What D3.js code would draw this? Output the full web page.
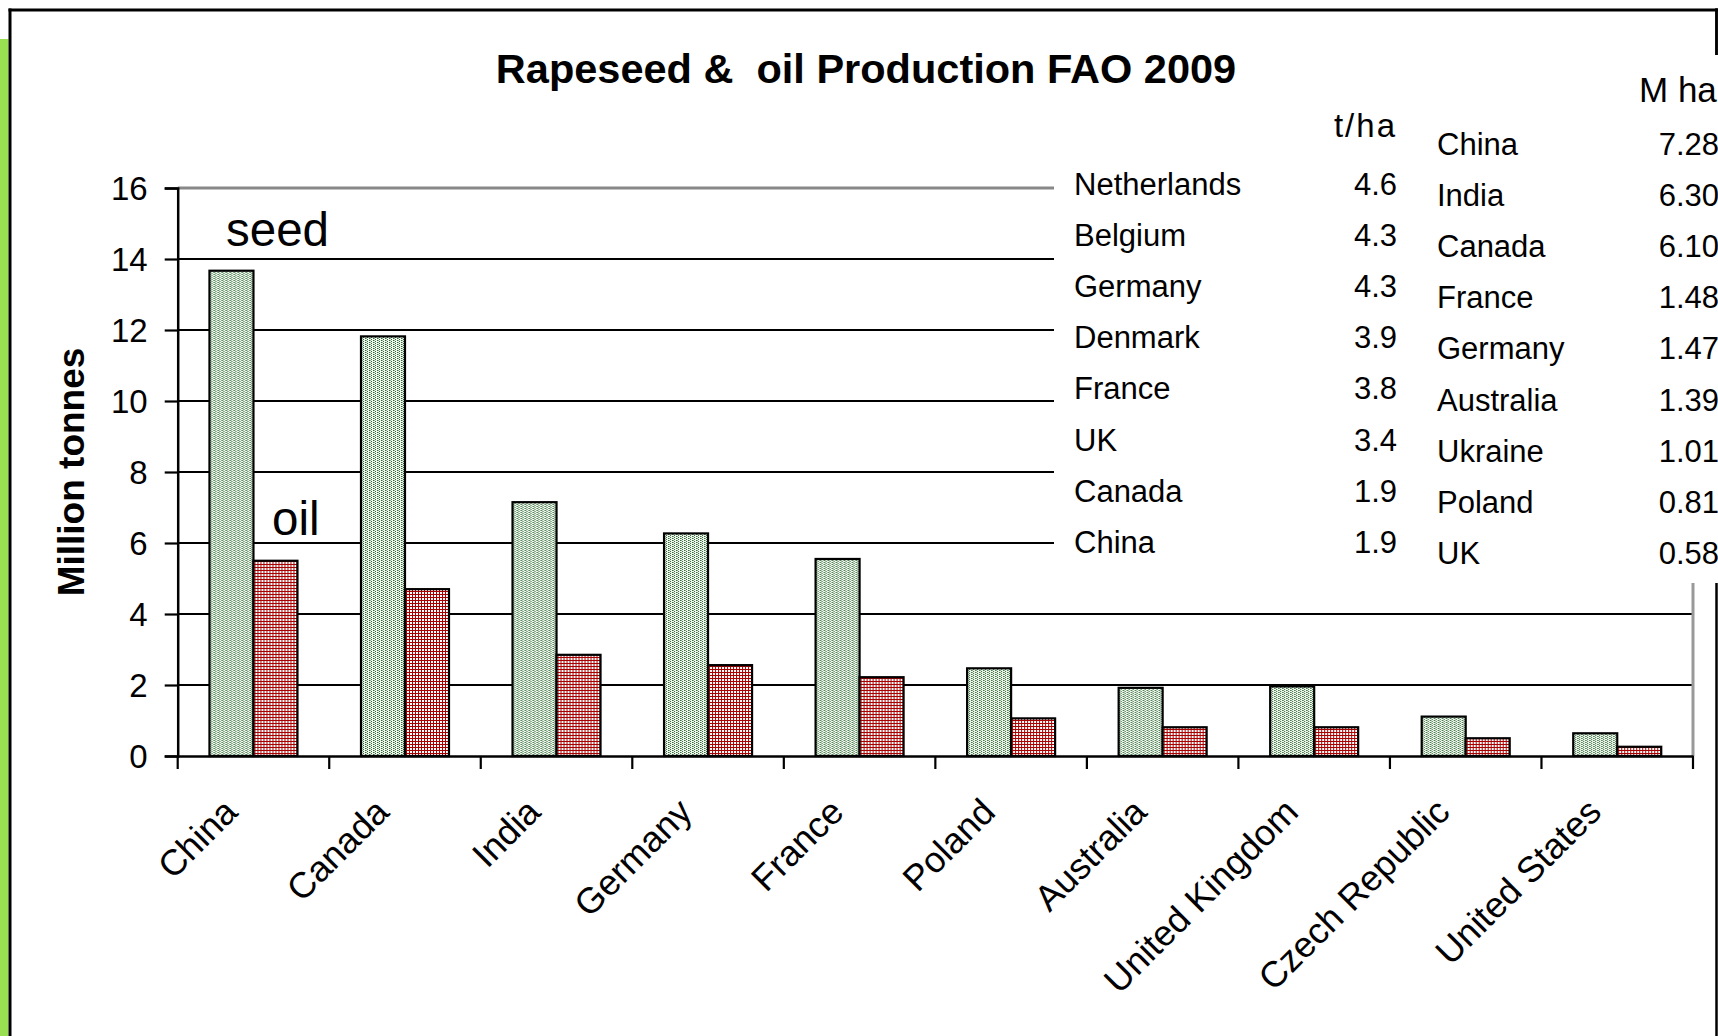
<!DOCTYPE html>
<html>
<head>
<meta charset="utf-8">
<script src="https://cdn.jsdelivr.net/npm/d3@7/dist/d3.min.js"></script>
<style>
  html, body { margin: 0; padding: 0; background: #ffffff; }
  svg { display: block; }
  text { font-family: "Liberation Sans", Arial, Helvetica, sans-serif; fill: #000; }
</style>
</head>
<body>
<svg id="chart" width="1718" height="1036"></svg>
<script>
// ---------- data ----------
const categories = ["China", "Canada", "India", "Germany", "France", "Poland",
                    "Australia", "United Kingdom", "Czech Republic", "United States"];
const seedValues = [13.67, 11.82, 7.15, 6.27, 5.55, 2.47, 1.92, 1.96, 1.11, 0.64];
const oilValues  = [5.50, 4.70, 2.85, 2.56, 2.22, 1.06, 0.81, 0.81, 0.50, 0.26];
const seriesNames = ["seed", "oil"];
const yTicks = [0, 2, 4, 6, 8, 10, 12, 14, 16];

const yieldCountries = ["Netherlands", "Belgium", "Germany", "Denmark", "France", "UK", "Canada", "China"];
const yieldValues    = ["4.6", "4.3", "4.3", "3.9", "3.8", "3.4", "1.9", "1.9"];
const areaCountries  = ["China", "India", "Canada", "France", "Germany", "Australia", "Ukraine", "Poland", "UK"];
const areaValues     = ["7.28", "6.30", "6.10", "1.48", "1.47", "1.39", "1.01", "0.81", "0.58"];

const titleText = "Rapeseed &  oil Production FAO 2009";
const yTitle = "Million tonnes";

// ---------- layout ----------
const svg = d3.select("#chart");
const plot = { left: 177.7, right: 1693, top: 188, bottom: 756 };

const x = d3.scaleBand().domain(categories).range([plot.left, plot.right]).paddingInner(0).paddingOuter(0);
const barW = 44;
const x1 = d3.scaleBand().domain(seriesNames).range([0, barW * 2]);
const y = d3.scaleLinear().domain([0, 16]).range([plot.bottom, plot.top]);

// patterns
const defs = svg.append("defs");
const pSeed = defs.append("pattern").attr("id", "seedPat").attr("patternUnits", "userSpaceOnUse")
  .attr("width", 4).attr("height", 2);
pSeed.append("rect").attr("width", 4).attr("height", 2).attr("fill", "#f2f7f0");
pSeed.append("rect").attr("x", 0).attr("y", 0).attr("width", 1).attr("height", 1).attr("fill", "#2f6a35");
pSeed.append("rect").attr("x", 2).attr("y", 1).attr("width", 1).attr("height", 1).attr("fill", "#2f6a35");
pSeed.append("rect").attr("x", 1).attr("y", 0).attr("width", 1).attr("height", 1).attr("fill", "#8fb091");

const pOil = defs.append("pattern").attr("id", "oilPat").attr("patternUnits", "userSpaceOnUse")
  .attr("width", 3).attr("height", 3);
pOil.append("rect").attr("width", 3).attr("height", 3).attr("fill", "#ffffff");
pOil.append("rect").attr("x", 0).attr("y", 0).attr("width", 1).attr("height", 3).attr("fill", "#a80000");
pOil.append("rect").attr("x", 0).attr("y", 0).attr("width", 3).attr("height", 1).attr("fill", "#a80000");

// background
svg.append("rect").attr("width", 1718).attr("height", 1036).attr("fill", "#ffffff");

// left green strip
svg.append("rect").attr("x", 0).attr("y", 39).attr("width", 8.5).attr("height", 1036 - 39).attr("fill", "#9ade52");

// outer frame
svg.append("line").attr("x1", 8.5).attr("x2", 1718).attr("y1", 10).attr("y2", 10).attr("stroke", "#000").attr("stroke-width", 3);
svg.append("line").attr("x1", 10).attr("x2", 10).attr("y1", 8.5).attr("y2", 1036).attr("stroke", "#000").attr("stroke-width", 3);
svg.append("line").attr("x1", 1716.5).attr("x2", 1716.5).attr("y1", 8.5).attr("y2", 1036).attr("stroke", "#000").attr("stroke-width", 2.5);

// gridlines
svg.append("g").selectAll("line").data(yTicks.filter(d => d > 0)).join("line")
  .attr("x1", plot.left).attr("x2", plot.right)
  .attr("y1", d => y(d)).attr("y2", d => y(d))
  .attr("stroke", d => d === 16 ? "#888888" : "#000000")
  .attr("stroke-width", d => d === 16 ? 3 : 2.2);

// plot right border (gray)
svg.append("line").attr("x1", plot.right).attr("x2", plot.right).attr("y1", plot.top).attr("y2", plot.bottom)
  .attr("stroke", "#999999").attr("stroke-width", 3);

// bars
const groups = svg.append("g").selectAll("g").data(categories).join("g")
  .attr("transform", d => `translate(${x(d) + x.bandwidth() / 2 - barW},0)`);
groups.append("rect")
  .attr("x", x1("seed")).attr("width", x1.bandwidth())
  .attr("y", (d, i) => y(seedValues[i])).attr("height", (d, i) => y(0) - y(seedValues[i]))
  .attr("fill", "url(#seedPat)").attr("stroke", "#000").attr("stroke-width", 2.2);
groups.append("rect")
  .attr("x", x1("oil")).attr("width", x1.bandwidth())
  .attr("y", (d, i) => y(oilValues[i])).attr("height", (d, i) => y(0) - y(oilValues[i]))
  .attr("fill", "url(#oilPat)").attr("stroke", "#000").attr("stroke-width", 2.2);

// y axis
const yAxis = svg.append("g").attr("transform", `translate(${plot.left},0)`)
  .call(d3.axisLeft(y).tickValues(yTicks).tickSize(13).tickPadding(17).tickFormat(d3.format("d")));
yAxis.select(".domain").attr("stroke", "#000").attr("stroke-width", 2.5);
yAxis.selectAll(".tick line").attr("stroke", "#000").attr("stroke-width", 2.2);
yAxis.selectAll(".tick text").attr("font-size", 33).attr("dy", "0.36em")
  .style("font-family", "'Liberation Sans', Arial, sans-serif").attr("fill", "#000");

// x axis
const xAxis = svg.append("g").attr("transform", `translate(0,${plot.bottom})`)
  .call(d3.axisBottom(x).tickSize(0).tickPadding(0));
xAxis.select(".domain").attr("stroke", "#000").attr("stroke-width", 2.5);
xAxis.selectAll(".tick text")
  .attr("font-size", 36).attr("x", 0).attr("y", 0).attr("dy", 0)
  .style("text-anchor", "end")
  .style("font-family", "'Liberation Sans', Arial, sans-serif").attr("fill", "#000")
  .attr("transform", "translate(-14,58) rotate(-45)");
// boundary ticks
const bounds = categories.map(c => x(c)).concat([plot.right]);
xAxis.append("g").selectAll("line").data(bounds).join("line")
  .attr("x1", d => d).attr("x2", d => d).attr("y1", 0).attr("y2", 13)
  .attr("stroke", "#000").attr("stroke-width", 2.2);

// y title
svg.append("text").attr("transform", "translate(84,472) rotate(-90)")
  .attr("text-anchor", "middle").attr("font-size", 37).attr("font-weight", "bold").text(yTitle);

// series annotations
svg.append("text").attr("x", 226).attr("y", 246).attr("font-size", 47.5).text(seriesNames[0]);
svg.append("text").attr("x", 272).attr("y", 535).attr("font-size", 47.5).text(seriesNames[1]);

// table box (covers plot area on right)
svg.append("rect").attr("x", 1054).attr("y", 55).attr("width", 664).attr("height", 528).attr("fill", "#ffffff");

// title
svg.append("text").attr("x", 866).attr("y", 83).attr("text-anchor", "middle")
  .style("white-space", "pre").attr("xml:space", "preserve")
  .attr("font-size", 41.5).attr("font-weight", "bold").text(titleText);

// yield table
const rowH = 51.1;
svg.append("text").attr("x", 1397).attr("y", 137).attr("text-anchor", "end").attr("font-size", 33)
  .attr("letter-spacing", 2).text("t/ha");
svg.append("g").selectAll("text").data(yieldCountries).join("text")
  .attr("x", 1074).attr("y", (d, i) => 195 + i * rowH).attr("font-size", 31).text(d => d);
svg.append("g").selectAll("text").data(yieldValues).join("text")
  .attr("x", 1397).attr("y", (d, i) => 195 + i * rowH).attr("text-anchor", "end").attr("font-size", 31).text(d => d);

// area table
svg.append("text").attr("x", 1639).attr("y", 102).attr("font-size", 35).text("M ha");
svg.append("g").selectAll("text").data(areaCountries).join("text")
  .attr("x", 1437).attr("y", (d, i) => 155 + i * rowH).attr("font-size", 31).text(d => d);
svg.append("g").selectAll("text").data(areaValues).join("text")
  .attr("x", 1719).attr("y", (d, i) => 155 + i * rowH).attr("text-anchor", "end").attr("font-size", 31).text(d => d);

// re-draw right frame segment above table
svg.append("line").attr("x1", 1716.5).attr("x2", 1716.5).attr("y1", 8.5).attr("y2", 55).attr("stroke", "#000").attr("stroke-width", 2.5);
</script>
</body>
</html>
